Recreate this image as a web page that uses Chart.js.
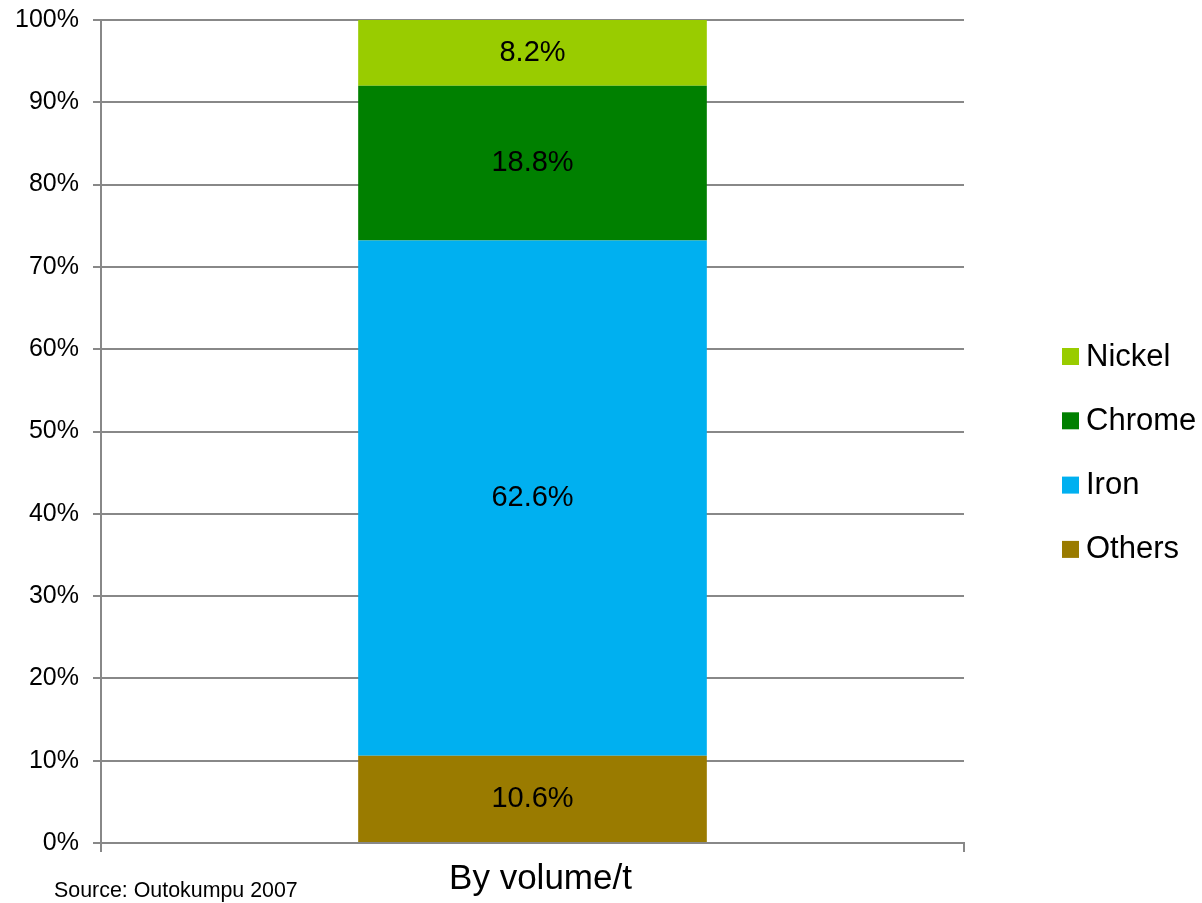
<!DOCTYPE html>
<html lang="en">
<head>
  <meta charset="UTF-8">
  <title>Stainless steel composition</title>
  <style>
    * { box-sizing: border-box; margin: 0; padding: 0; }
    body { background: #fff; width: 1202px; height: 903px; overflow: hidden; }
    .chart-container { position: relative; width: 1202px; height: 903px; }
  </style>
</head>
<body>
  <div class="chart-container">
    <canvas id="compositionChart" width="1202" height="903"></canvas>
  </div>

  <script src="https://cdn.jsdelivr.net/npm/chart.js"></script>
  <script>
    // Data, bottom of the stack first
    var categories = ["By volume/t"];
    var seriesNames = ["Others", "Iron", "Chrome", "Nickel"];
    var seriesColors = ["#9a7b00", "#00b0f0", "#008000", "#99cc00"];
    var others = [10.6];
    var iron = [62.6];
    var chrome = [18.8];
    var nickel = [8.2];
    var yTicks = [0, 10, 20, 30, 40, 50, 60, 70, 80, 90, 100];

    var FONT = "'Liberation Sans', Arial, sans-serif";
    var GRID = "#888888";

    var seriesValues = [others, iron, chrome, nickel];
    var datasets = seriesNames.map(function (name, i) {
      return {
        label: name,
        data: seriesValues[i],
        backgroundColor: seriesColors[i],
        borderWidth: 0,
        categoryPercentage: 1,
        barPercentage: 0.404
      };
    });

    // value labels centered in each segment
    var segmentLabels = {
      id: "segmentLabels",
      afterDatasetsDraw: function (chart) {
        var ctx = chart.ctx;
        ctx.save();
        ctx.font = "29px " + FONT;
        ctx.fillStyle = "#000";
        ctx.textAlign = "center";
        ctx.textBaseline = "middle";
        chart.data.datasets.forEach(function (ds, i) {
          chart.getDatasetMeta(i).data.forEach(function (bar, j) {
            var top = Math.max(bar.y, chart.chartArea.top);
            var y = (top + bar.base) / 2;
            ctx.fillText(ds.data[j].toFixed(1) + "%", bar.x, y);
          });
        });
        ctx.restore();
      }
    };

    // legend on the right (top item = top of stack) and source note
    var sideLegend = {
      id: "sideLegend",
      afterDraw: function (chart) {
        var ctx = chart.ctx;
        var items = chart.data.datasets.slice().reverse();
        ctx.save();
        ctx.font = "31px " + FONT;
        ctx.textBaseline = "middle";
        ctx.textAlign = "left";
        items.forEach(function (ds, k) {
          var cy = 356 + k * 64.3;
          ctx.fillStyle = ds.backgroundColor;
          ctx.fillRect(1062, cy - 8, 17, 17);
          ctx.fillStyle = "#000";
          ctx.fillText(ds.label, 1086, cy + 1);
        });
        ctx.font = "21.4px " + FONT;
        ctx.textBaseline = "alphabetic";
        ctx.fillText("Source: Outokumpu 2007", 54, 897);
        ctx.restore();
      }
    };

    var ctx = document.getElementById("compositionChart").getContext("2d");
    new Chart(ctx, {
      type: "bar",
      data: { labels: categories, datasets: datasets },
      options: {
        responsive: false,
        animation: false,
        maintainAspectRatio: false,
        devicePixelRatio: 1,
        layout: { padding: { top: 20, right: 238, left: 0, bottom: 0 } },
        plugins: {
          legend: { display: false },
          tooltip: { enabled: false }
        },
        scales: {
          x: {
            stacked: true,
            grid: { drawOnChartArea: false, color: GRID, lineWidth: 2, tickLength: 9, offset: true },
            border: { color: GRID, width: 2 },
            ticks: { color: "#000", font: { family: FONT, size: 35 }, padding: 6, labelOffset: 8 },
            afterFit: function (scale) {
              scale.height = 60;
              scale.paddingLeft = 0;
              scale.paddingRight = 0;
            }
          },
          y: {
            stacked: true,
            min: yTicks[0],
            max: yTicks[yTicks.length - 1],
            afterBuildTicks: function (scale) {
              scale.ticks = yTicks.map(function (v) { return { value: v }; });
            },
            grid: { color: GRID, lineWidth: 2, tickLength: 8 },
            border: { color: GRID, width: 2 },
            ticks: {
              color: "#000",
              font: { family: FONT, size: 25 },
              padding: 14,
              callback: function (v) { return v + "%"; }
            },
            afterFit: function (scale) {
              scale.width = 101;
              scale.paddingTop = 0;
              scale.paddingBottom = 0;
            }
          }
        }
      },
      plugins: [segmentLabels, sideLegend]
    });
  </script>
</body>
</html>
